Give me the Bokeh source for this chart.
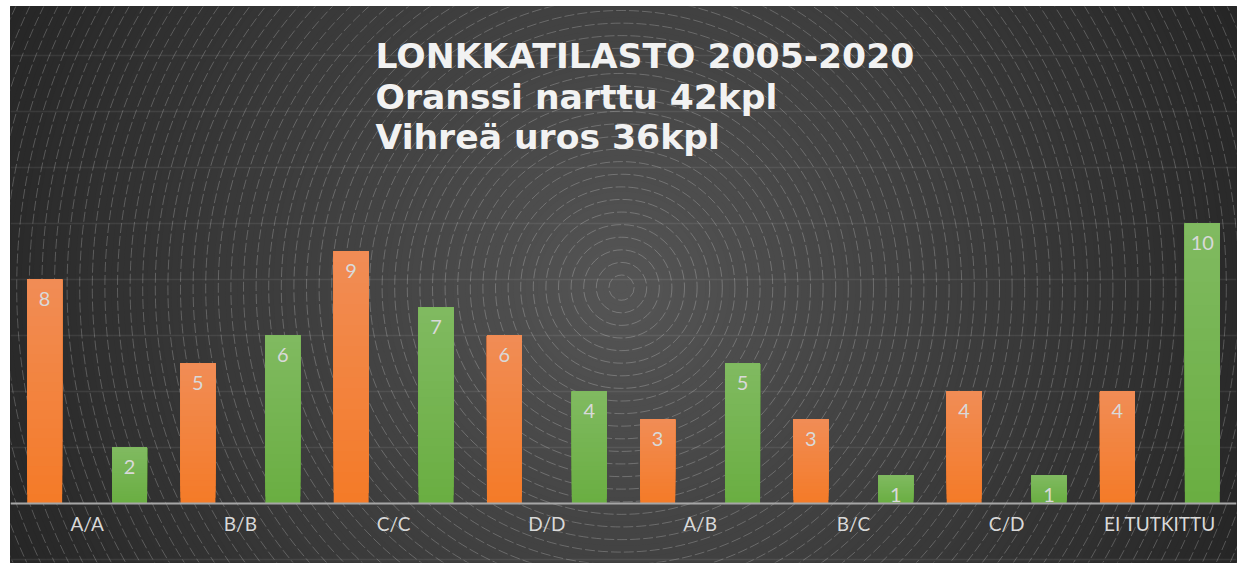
from bokeh.plotting import figure
from bokeh.models import FactorRange, Range1d, Span, Grid, SingleIntervalTicker, Label, ColumnDataSource
from bokeh.transform import dodge
from bokeh.core.properties import value
from bokeh.embed import file_html
from bokeh.resources import INLINE

# ---- data ----
categories = ["A/A", "B/B", "C/C", "D/D", "A/B", "B/C", "C/D", "EI TUTKITTU"]
orange_female = [8, 5, 9, 6, 3, 3, 4, 4]
green_male = [2, 6, 7, 4, 5, 1, 1, 10]
title_lines = ["LONKKATILASTO 2005-2020", "Oranssi narttu 42kpl", "Vihreä uros 36kpl"]

W, H = 1238, 563
p = figure(x_range=FactorRange(*categories), y_range=Range1d(-2.107, 17.75),
           width=W, height=H, output_backend="svg", toolbar_location=None,
           x_axis_location=None, y_axis_location=None,
           min_border_left=10, min_border_right=2, min_border_top=6, min_border_bottom=1,
           background_fill_color="#262626", border_fill_color="white",
           outline_line_color=None)
p.xgrid.visible = False
p.ygrid.visible = False

# ---- radial background ----
xc, yc = 3.987, 7.71
radii = list(range(720, 0, -6))
sizes = [2 * r for r in radii]
cols = []
for r in radii:
    g = int(max(38, 86 - 0.071 * r))
    cols.append("#%02x%02x%02x" % (g, g, g))
p.scatter(x=[xc] * len(radii), y=[yc] * len(radii), size=sizes, marker="circle",
          fill_color=cols, line_color=None, level="image")
ring_r = [12.6 * k for k in range(1, 62)]
p.scatter(x=[xc] * len(ring_r), y=[yc] * len(ring_r), size=[2 * r for r in ring_r],
          marker="circle", fill_color=None, line_color="white", line_alpha=0.22,
          line_width=1, line_dash="10 3", level="image")

grid = Grid(dimension=1, ticker=SingleIntervalTicker(interval=2),
            grid_line_color="white", grid_line_alpha=0.08, grid_line_width=1.5)
p.add_layout(grid, "center")

# ---- bars with vertical gradient ----
def hex2rgb(h):
    h = h.lstrip("#")
    return tuple(int(h[i:i + 2], 16) for i in (0, 2, 4))

N = 24
def gradient_bars(vals, offset, c_bottom, c_top):
    b, t = hex2rgb(c_bottom), hex2rgb(c_top)
    xs, bots, tops, cs = [], [], [], []
    for j in range(N):
        f = j / (N - 1)
        c = tuple(int(round(b[k] + (t[k] - b[k]) * f)) for k in range(3))
        for cat, v in zip(categories, vals):
            xs.append(cat)
            bots.append(v * j / N)
            tops.append(v)
            cs.append("#%02x%02x%02x" % c)
    src = ColumnDataSource(dict(x=xs, bottom=bots, top=tops, color=cs))
    p.vbar(x=dodge("x", offset, range=p.x_range), width=0.228, bottom="bottom", top="top",
           fill_color="color", line_color=None, source=src)
    lsrc = ColumnDataSource(dict(x=categories, y=vals, t=[str(v) for v in vals]))
    p.text(x=dodge("x", offset, range=p.x_range), y="y", text="t", source=lsrc,
           text_align="center", text_baseline="middle", y_offset=19,
           text_font=value("Lato"), text_font_size="20px", text_color="#D9D9D9")

gradient_bars(orange_female, -0.277, "#F47B28", "#F18C55")
gradient_bars(green_male, 0.277, "#6AAE42", "#80BA60")

# ---- axis ----
p.add_layout(Span(location=0, dimension="width", line_color="#A6A6A6", line_width=2))
csrc = ColumnDataSource(dict(x=categories, y=[0] * len(categories)))
p.text(x="x", y="y", text="x", source=csrc, text_align="center", text_baseline="middle",
       y_offset=20, text_font=value("Lato"), text_font_size="19px", text_color="#D9D9D9")

# ---- title ----
for line, yb in zip(title_lines, [507, 466, 426]):
    p.add_layout(Label(x=365, y=yb, x_units="screen", y_units="screen", text=line,
                       text_font="DejaVu Sans", text_font_style="bold", text_font_size="34.6px",
                       text_color="#F2F2F2", text_baseline="alphabetic"))

open("out.html", "w").write(file_html(p, INLINE))
